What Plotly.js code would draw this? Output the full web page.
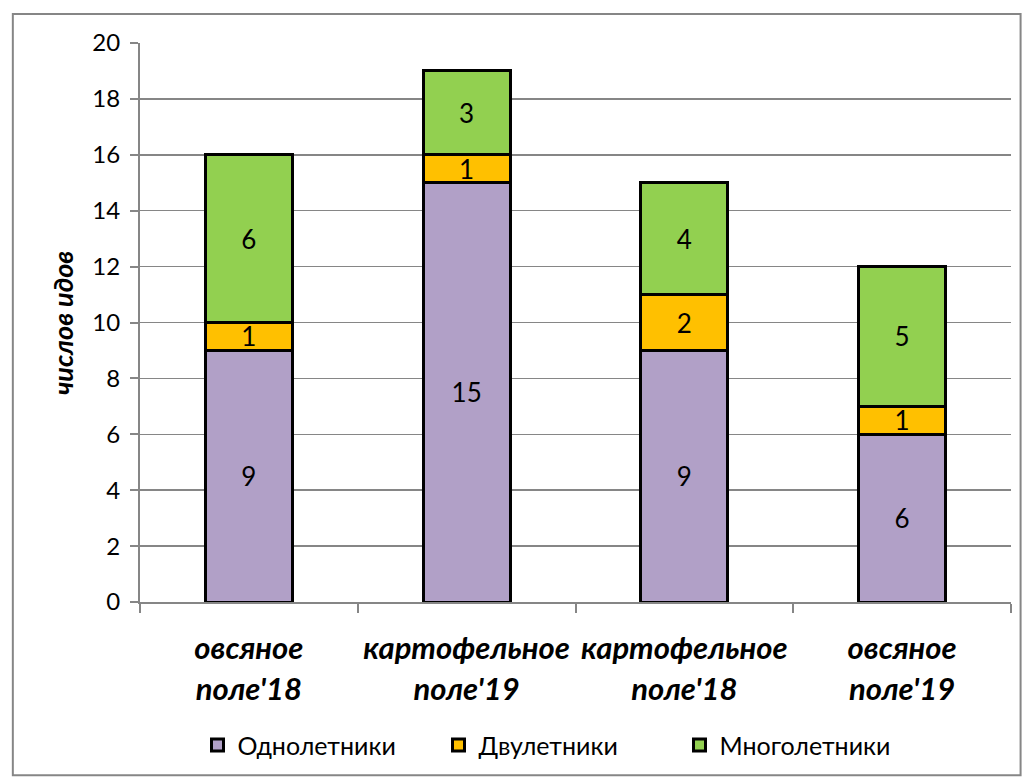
<!DOCTYPE html>
<html>
<head>
<meta charset="utf-8">
<script src="https://cdn.plot.ly/plotly-3.0.1.min.js"></script>
<style>
html,body{margin:0;padding:0;background:#fff;}
#chart{width:1026px;height:782px;}
</style>
</head>
<body>
<div id="chart"></div>
<script>
const categories = ["овсяное<br>поле'18", "картофельное<br>поле'19", "картофельное<br>поле'18", "овсяное<br>поле'19"];
const annuals = [9, 15, 9, 6];
const biennials = [1, 1, 2, 1];
const perennials = [6, 3, 4, 5];
const seriesNames = ["Однолетники", "Двулетники", "Многолетники"];
const colors = ["#B1A0C7", "#FFC000", "#92D050"];
const yTicks = [0, 2, 4, 6, 8, 10, 12, 14, 16, 18, 20];
const yTitle = 'числов идов';

const FONT = "Lato, 'Open Sans', 'Liberation Sans', sans-serif";
const series = [annuals, biennials, perennials];

const traces = series.map((vals, i) => ({
  type: 'bar',
  name: seriesNames[i],
  x: categories,
  y: vals,
  text: vals.map(String),
  textposition: 'inside',
  insidetextanchor: 'middle',
  textangle: 0,
  constraintext: 'none',
  textfont: {family: FONT, size: 26, color: '#000'},
  marker: {color: colors[i], line: {color: '#000', width: 3}},
  hoverinfo: 'x+y'
}));

const layout = {
  width: 1026,
  height: 782,
  barmode: 'stack',
  bargap: 0.6,
  paper_bgcolor: '#fff',
  plot_bgcolor: '#fff',
  font: {family: FONT, size: 24, color: '#000'},
  margin: {l: 140, r: 15, t: 43, b: 180, autoexpand: false},
  xaxis: {
    type: 'category',
    tickson: 'boundaries',
    ticks: 'outside',
    ticklen: 9,
    tickcolor: '#868686',
    tickwidth: 2,
    showline: true,
    linecolor: '#868686',
    linewidth: 2,
    tickfont: {family: FONT, size: 31, color: '#000', weight: 'bold', style: 'italic'},
    ticklabelstandoff: 18,
    showgrid: false
  },
  yaxis: {
    range: [0, 20],
    tickvals: yTicks,
    ticks: 'outside',
    ticklen: 8,
    tickcolor: '#868686',
    tickwidth: 2,
    showline: true,
    linecolor: '#868686',
    linewidth: 2,
    showgrid: true,
    gridcolor: '#868686',
    gridwidth: 1.5,
    zeroline: false,
    tickfont: {family: FONT, size: 24, color: '#000'},
    ticklabelstandoff: 5
  },
  annotations: [{
    text: yTitle,
    xref: 'paper', yref: 'paper',
    x: -0.089, y: 0.5,
    xanchor: 'center', yanchor: 'middle',
    textangle: -90,
    showarrow: false,
    font: {family: FONT, size: 27, color: '#000', weight: 'bold', style: 'italic'}
  }],
  legend: {
    orientation: 'h',
    x: 0.066,
    xanchor: 'left',
    y: -0.215,
    yanchor: 'top',
    font: {family: FONT, size: 25, color: '#000'},
    traceorder: 'normal',
    itemwidth: 30,
    entrywidth: 196,
    entrywidthmode: 'pixels'
  },
  shapes: [{
    type: 'rect', xref: 'paper', yref: 'paper',
    x0: -0.146, x1: 1.011, y0: -0.31, y1: 1.052,
    line: {color: '#868686', width: 2}
  }],
  showlegend: true
};

Plotly.newPlot('chart', traces, layout, {displayModeBar: false, staticPlot: true});
</script>
</body>
</html>
